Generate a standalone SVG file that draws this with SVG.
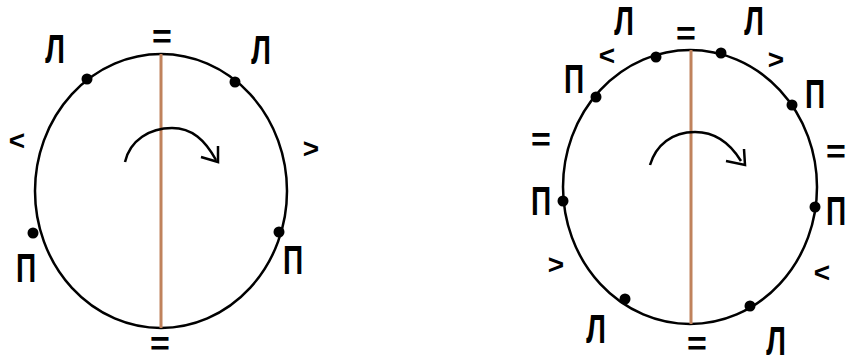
<svg xmlns="http://www.w3.org/2000/svg" width="848" height="363" viewBox="0 0 848 363">
<style>
.ring{fill:none;stroke:#000;stroke-width:2.5}
.axis{stroke:#C0825C;stroke-width:3}
.dot{fill:#000}
.rot{fill:none;stroke:#000;stroke-width:2.5}
.lbl{font-family:"Liberation Sans",Arial,sans-serif;font-size:28px;font-weight:bold;fill:#000;text-anchor:middle}
.eq{font-family:"Liberation Sans",Arial,sans-serif;font-size:34px;font-weight:bold;fill:#000;text-anchor:middle}
.sym{font-family:"Liberation Sans",Arial,sans-serif;font-size:28px;font-weight:bold;fill:#000;text-anchor:middle}
</style>
<rect width="848" height="363" fill="#fff"/>
<g id="left-diagram">
  <g id="left-circle">
    <ellipse class="ring" cx="161" cy="191" rx="126" ry="137"/>
    <line class="axis" x1="161" y1="54" x2="161" y2="328"/>
    <circle class="dot" cx="87" cy="79" r="5.5"/>
    <circle class="dot" cx="235" cy="82" r="5.5"/>
    <circle class="dot" cx="33" cy="233" r="5.5"/>
    <circle class="dot" cx="279" cy="232" r="5.5"/>
  </g>
  <g id="left-rotation">
    <path class="rot" d="M125,162 C130,140 150,128 172,128 C192,128 205,140 216,160"/>
    <polyline class="rot" points="201,157 218,162 218,146"/>
  </g>
  <g id="left-labels">
    <text class="eq" x="162" y="48">=</text>
    <text class="eq" x="160" y="355">=</text>
    <text class="lbl" transform="translate(55,63) scale(1,1.42)">Л</text>
    <text class="lbl" transform="translate(261,64) scale(1,1.42)">Л</text>
    <text class="lbl" transform="translate(26,282) scale(1,1.42)">П</text>
    <text class="lbl" transform="translate(293,274) scale(1,1.42)">П</text>
    <text class="sym" x="17" y="150">&lt;</text>
    <text class="sym" x="311" y="158">&gt;</text>
  </g>
</g>
<g id="right-diagram">
  <g id="right-circle">
    <ellipse class="ring" cx="690" cy="187" rx="127" ry="137"/>
    <line class="axis" x1="691" y1="50" x2="691" y2="324"/>
    <circle class="dot" cx="656" cy="57" r="5.5"/>
    <circle class="dot" cx="721" cy="53" r="5.5"/>
    <circle class="dot" cx="596" cy="97" r="5.5"/>
    <circle class="dot" cx="792" cy="105" r="5.5"/>
    <circle class="dot" cx="563" cy="201" r="5.5"/>
    <circle class="dot" cx="815" cy="207" r="5.5"/>
    <circle class="dot" cx="625" cy="299" r="5.5"/>
    <circle class="dot" cx="750" cy="306" r="5.5"/>
  </g>
  <g id="right-rotation">
    <path class="rot" d="M650,165 C656,145 672,132 695,132 C715,132 730,143 741,161"/>
    <polyline class="rot" points="726,161 745,165 744,149"/>
  </g>
  <g id="right-labels">
    <text class="eq" x="686" y="45">=</text>
    <text class="eq" x="697" y="355">=</text>
    <text class="eq" x="541" y="151">=</text>
    <text class="eq" x="836" y="163">=</text>
    <text class="lbl" transform="translate(624,35) scale(1,1.42)">Л</text>
    <text class="lbl" transform="translate(754,35) scale(1,1.42)">Л</text>
    <text class="lbl" transform="translate(596,343) scale(1,1.42)">Л</text>
    <text class="lbl" transform="translate(776,355) scale(1,1.42)">Л</text>
    <text class="lbl" transform="translate(574,93) scale(1,1.42)">П</text>
    <text class="lbl" transform="translate(815,108) scale(1,1.42)">П</text>
    <text class="lbl" transform="translate(541,215) scale(1,1.42)">П</text>
    <text class="lbl" transform="translate(836,225) scale(1,1.42)">П</text>
    <text class="sym" x="607" y="65">&lt;</text>
    <text class="sym" x="776" y="69">&gt;</text>
    <text class="sym" x="556" y="274">&gt;</text>
    <text class="sym" x="822" y="282">&lt;</text>
  </g>
</g>
</svg>
